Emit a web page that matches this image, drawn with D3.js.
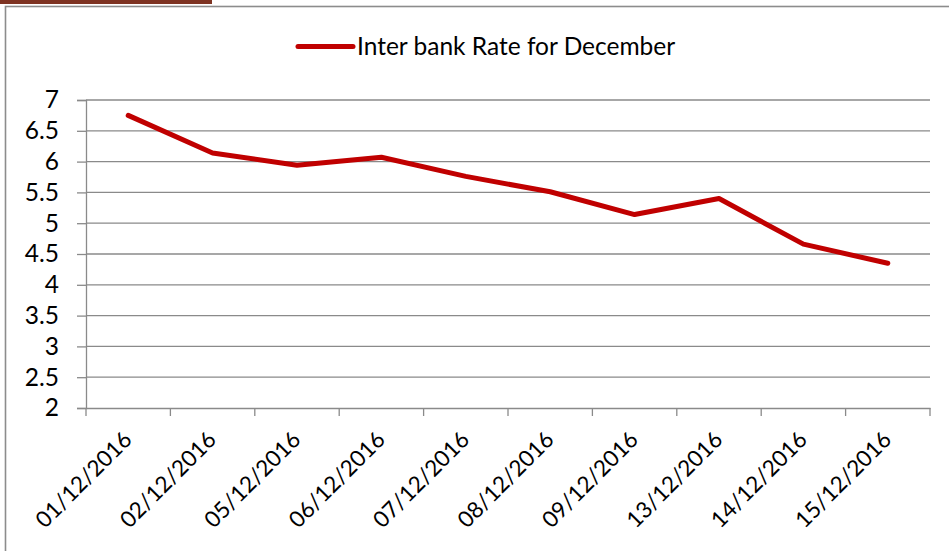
<!DOCTYPE html>
<html>
<head>
<meta charset="utf-8">
<script src="https://cdn.jsdelivr.net/npm/d3@7/dist/d3.min.js"></script>
<style>
  html, body { margin: 0; padding: 0; background: #fff; }
  svg { display: block; }
  text { font-family: Lato, "Open Sans", sans-serif; fill: #000; }
</style>
</head>
<body>
<svg id="chart" width="949" height="551"></svg>
<script>
const categories = ["01/12/2016","02/12/2016","05/12/2016","06/12/2016","07/12/2016",
                    "08/12/2016","09/12/2016","13/12/2016","14/12/2016","15/12/2016"];
const rates = [6.75, 6.14, 5.94, 6.07, 5.76, 5.51, 5.14, 5.40, 4.66, 4.35];
const yTicks = [2, 2.5, 3, 3.5, 4, 4.5, 5, 5.5, 6, 6.5, 7];
const seriesName = "Inter bank Rate for December";

const svg = d3.select("#chart");
const plot = {left: 86, right: 930, top: 100, bottom: 408};
const gridColor = "#8a8a8a";
const lineColor = "#C00000";

// decorative top bar & outer frame
svg.append("rect").attr("x", 0).attr("y", 0).attr("width", 212).attr("height", 4).attr("fill", "#7e3322");
svg.append("rect").attr("x", 5.5).attr("y", 6.5).attr("width", 960).attr("height", 600)
  .attr("fill", "none").attr("stroke", "#8c8c8c").attr("stroke-width", 1.6);

const x = d3.scaleBand().domain(categories).range([plot.left, plot.right]);
const y = d3.scaleLinear().domain([2, 7]).range([plot.bottom, plot.top]);

// gridlines
svg.append("g").selectAll("line").data(yTicks.filter(d => d !== 2)).join("line")
  .attr("x1", plot.left).attr("x2", plot.right)
  .attr("y1", d => y(d)).attr("y2", d => y(d))
  .attr("stroke", gridColor).attr("stroke-width", 1.3);

// y axis
const yAxis = svg.append("g").attr("transform", `translate(${plot.left},0)`)
  .call(d3.axisLeft(y).tickValues(yTicks).tickSize(9).tickPadding(18).tickFormat(d3.format("")));
yAxis.select(".domain").attr("stroke", gridColor).attr("stroke-width", 1.3);
yAxis.selectAll(".tick line").attr("stroke", gridColor).attr("stroke-width", 1.3);
yAxis.selectAll(".tick text").style("font-family", "Lato, sans-serif").style("font-size", "24.5px").attr("fill", "#000");

// x axis
const xAxis = svg.append("g").attr("transform", `translate(0,${plot.bottom})`)
  .call(d3.axisBottom(x).tickSize(0).tickFormat(""));
xAxis.select(".domain").attr("stroke", gridColor).attr("stroke-width", 1.3);
const bounds = categories.map(c => x(c)).concat([plot.right]);
xAxis.selectAll(".bnd").data(bounds).join("line").attr("class", "bnd")
  .attr("x1", d => d).attr("x2", d => d).attr("y1", 0).attr("y2", 8)
  .attr("stroke", gridColor).attr("stroke-width", 1.3);
xAxis.selectAll(".lbl").data(categories).join("text").attr("class", "lbl")
  .attr("transform", d => `translate(${x(d) + x.bandwidth() / 2 + 5},${33}) rotate(-45)`)
  .attr("text-anchor", "end")
  .style("font-size", "22.5px")
  .text(d => d);

// line
const line = d3.line().x((d, i) => x(categories[i]) + x.bandwidth() / 2).y(d => y(d));
svg.append("path").datum(rates).attr("d", line)
  .attr("fill", "none").attr("stroke", lineColor).attr("stroke-width", 5)
  .attr("stroke-linecap", "round").attr("stroke-linejoin", "round");

// legend
const lg = svg.append("g");
lg.append("line").attr("x1", 298).attr("x2", 353).attr("y1", 46.5).attr("y2", 46.5)
  .attr("stroke", lineColor).attr("stroke-width", 5).attr("stroke-linecap", "round");
lg.append("text").attr("x", 357).attr("y", 55).style("font-size", "24.5px").text(seriesName);
</script>
</body>
</html>
